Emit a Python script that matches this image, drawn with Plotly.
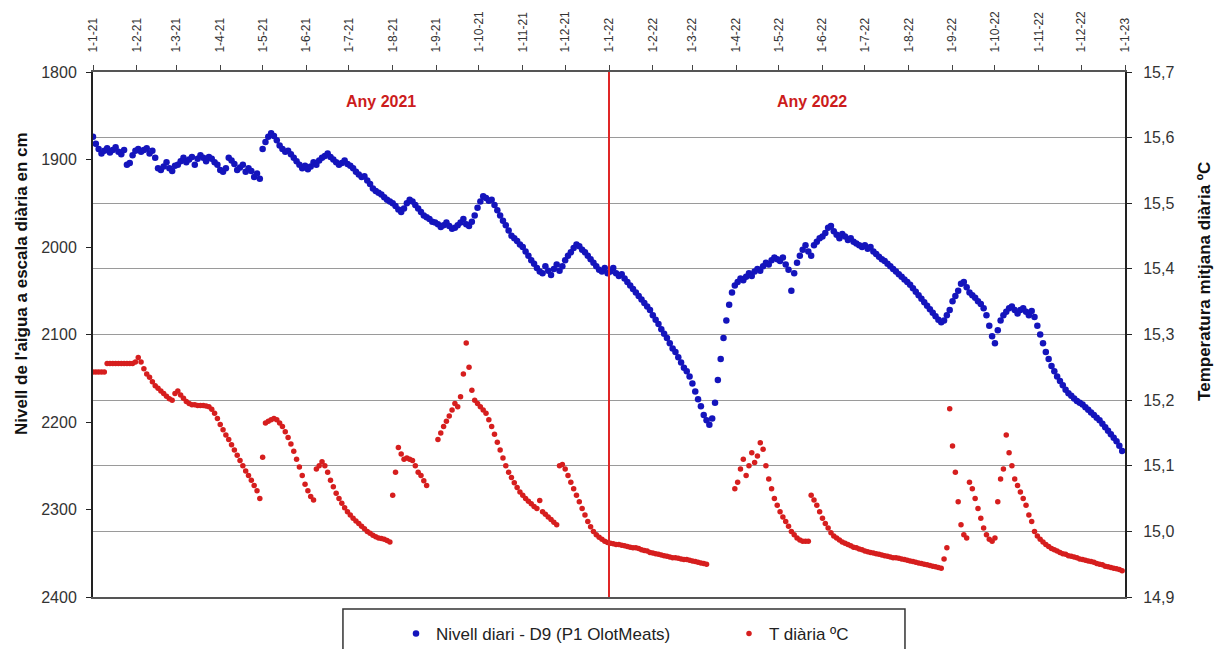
import pandas as pd
import plotly.graph_objects as go

# Readings every 2 days starting on 1 Jan 2021 (365 readings up to 30 Dec 2022)
START = "2021-01-01"
STEP_DAYS = 2

# Daily water level (cm, depth scale) - one line per month
nivell_2021 = [
    1874, 1882, 1888, 1893, 1890, 1887, 1892, 1889, 1886, 1891, 1894, 1889, 1906, 1904, 1895, 1890,
    1888, 1891, 1889, 1887, 1893, 1890, 1898, 1910, 1912, 1908, 1903, 1910, 1913, 1907,
    1906, 1902, 1898, 1903, 1900, 1897, 1906, 1899, 1895, 1898, 1902, 1897, 1899, 1903, 1906,
    1912, 1914, 1910, 1898, 1901, 1905, 1912, 1909, 1906, 1914, 1910, 1913, 1920, 1916, 1922,
    1888, 1880, 1874, 1870, 1873, 1878, 1884, 1888, 1891, 1890, 1894, 1898, 1902, 1906, 1910, 1907,
    1911, 1908, 1903, 1906, 1901, 1898, 1896, 1893, 1897, 1900, 1903, 1906, 1904, 1901, 1905,
    1907, 1910, 1914, 1917, 1920, 1919, 1924, 1928, 1933, 1936, 1938, 1940, 1943, 1946, 1948,
    1950, 1953, 1957, 1960, 1956, 1950, 1946, 1948, 1952, 1956, 1960, 1964, 1966, 1968, 1971, 1972,
    1974, 1977, 1975, 1972, 1976, 1979, 1978, 1975, 1972, 1968, 1974, 1976, 1971, 1964, 1955,
    1948, 1942, 1944, 1947, 1946, 1952, 1958, 1964, 1970, 1975, 1981, 1987, 1990, 1993, 1997,
    2000, 2005, 2010, 2015, 2019, 2024, 2028, 2030, 2022, 2027, 2032, 2025, 2020, 2027, 2022,
    2015, 2010, 2006, 2001, 1997, 1999, 2003, 2006, 2010, 2014, 2018, 2022, 2026, 2028, 2024, 2030,
]
nivell_2022 = [
    2028, 2024, 2030, 2033, 2031, 2036, 2040, 2044, 2048, 2052, 2056, 2060, 2064, 2068, 2072,
    2078, 2083, 2088, 2094, 2099, 2104, 2110, 2116, 2120, 2126, 2132, 2138, 2142, 2148,
    2156, 2165, 2174, 2182, 2192, 2198, 2203, 2196, 2178, 2152, 2128, 2104, 2084, 2066, 2052, 2044,
    2040, 2036, 2038, 2034, 2030, 2033, 2028, 2025, 2027, 2022, 2018, 2020, 2015, 2012, 2014,
    2016, 2012, 2020, 2026, 2050, 2030, 2018, 2010, 2003, 1998, 2005, 2010, 1998, 1994, 1990,
    1988, 1984, 1978, 1976, 1982, 1986, 1990, 1985, 1988, 1992, 1990, 1994, 1996, 1998, 2000,
    1998, 2002, 2000, 2005, 2008, 2011, 2014, 2016, 2019, 2022, 2025, 2028, 2031, 2034, 2037, 2040,
    2043, 2047, 2051, 2055, 2059, 2063, 2067, 2071, 2075, 2079, 2083, 2086, 2084, 2078, 2072,
    2062, 2056, 2050, 2042, 2040, 2046, 2052, 2055, 2058, 2062, 2065, 2070, 2078, 2090, 2102,
    2110, 2095, 2084, 2078, 2074, 2070, 2068, 2072, 2076, 2072, 2070, 2074, 2078, 2073, 2080, 2090,
    2100, 2110, 2120, 2128, 2136, 2142, 2148, 2153, 2158, 2163, 2167, 2170, 2173, 2176, 2178,
    2180, 2183, 2186, 2189, 2192, 2195, 2198, 2202, 2206, 2210, 2214, 2218, 2222, 2227, 2233,
]

# Daily mean temperature (ºC); None = no reading
temp_2021 = [
    15.243, 15.243, 15.243, 15.243, 15.243, 15.256, 15.256, 15.256, 15.256, 15.256, 15.256, 15.256, 15.256, 15.256, 15.256, 15.258,
    15.265, 15.258, 15.248, 15.24, 15.235, 15.228, 15.222, 15.218, 15.214, 15.21, 15.206, 15.202, 15.2, 15.21,
    15.214, 15.208, 15.203, 15.198, 15.195, 15.193, 15.193, 15.192, 15.192, 15.192, 15.191, 15.19, 15.186, 15.18, 15.172,
    15.163, 15.155, 15.147, 15.14, 15.132, 15.124, 15.116, 15.108, 15.1, 15.092, 15.085, 15.078, 15.07, 15.062, 15.05,
    15.113, 15.165, 15.168, 15.17, 15.172, 15.17, 15.165, 15.16, 15.152, 15.143, 15.133, 15.122, 15.11, 15.098, 15.085, 15.072,
    15.062, 15.053, 15.048, 15.095, 15.1, 15.106, 15.1, 15.09, 15.078, 15.068, 15.058, 15.05, 15.043, 15.036, 15.03,
    15.025, 15.02, 15.016, 15.012, 15.008, 15.004, 15.0, 14.997, 14.994, 14.992, 14.99, 14.989, 14.988, 14.986, 14.984,
    15.055, 15.09, 15.128, 15.118, 15.11, 15.112, 15.11, 15.108, 15.1, 15.09, 15.085, 15.077, 15.07, None, None, None,
    15.14, 15.15, 15.16, 15.168, 15.176, 15.185, 15.195, 15.19, 15.205, 15.24, 15.287, 15.25, 15.215, 15.2, 15.195,
    15.19, 15.185, 15.18, 15.17, 15.16, 15.148, 15.136, 15.124, 15.112, 15.1, 15.09, 15.082, 15.074, 15.067, 15.06,
    15.055, 15.05, 15.046, 15.042, 15.038, 15.035, 15.047, 15.03, 15.026, 15.022, 15.018, 15.014, 15.01, 15.1, 15.102,
    15.095, 15.085, 15.075, 15.065, 15.055, 15.045, 15.035, 15.025, 15.015, 15.007, 15.0, 14.995, 14.991, 14.988, 14.985, 14.983,
]
temp_2022 = [
    14.982, 14.981, 14.98, 14.98, 14.979, 14.978, 14.977, 14.976, 14.975, 14.975, 14.974, 14.972, 14.971, 14.97, 14.968,
    14.967, 14.966, 14.965, 14.964, 14.963, 14.962, 14.961, 14.96, 14.96, 14.959, 14.958, 14.957, 14.957, 14.956,
    14.955, 14.954, 14.953, 14.952, 14.951, 14.95, None, None, None, None, None, None, None, None, None, 15.065,
    15.075, 15.095, 15.11, 15.085, 15.1, 15.12, 15.105, 15.115, 15.135, 15.125, 15.1, 15.08, 15.065, 15.05, 15.04,
    15.03, 15.022, 15.015, 15.008, 15.0, 14.995, 14.99, 14.987, 14.985, 14.985, 14.985, 15.055, 15.048, 15.04, 15.03,
    15.02, 15.012, 15.005, 14.998, 14.993, 14.99, 14.987, 14.984, 14.982, 14.98, 14.978, 14.976, 14.975, 14.973, 14.972,
    14.97, 14.969, 14.968, 14.967, 14.966, 14.965, 14.964, 14.963, 14.962, 14.961, 14.96, 14.96, 14.959, 14.958, 14.957, 14.956,
    14.955, 14.954, 14.953, 14.952, 14.951, 14.95, 14.949, 14.948, 14.947, 14.946, 14.945, 14.944, 14.958, 14.975, 15.187,
    15.13, 15.09, 15.045, 15.01, 14.995, 14.99, 15.075, 15.065, 15.05, 15.035, 15.02, 15.005, 14.995, 14.988, 14.985,
    14.99, 15.045, 15.08, 15.095, 15.147, 15.12, 15.1, 15.08, 15.07, 15.06, 15.05, 15.04, 15.025, 15.015, 15.0, 14.993,
    14.988, 14.984, 14.98, 14.977, 14.974, 14.972, 14.97, 14.968, 14.966, 14.965, 14.963, 14.962, 14.961, 14.96, 14.958,
    14.957, 14.956, 14.955, 14.954, 14.953, 14.951, 14.95, 14.949, 14.947, 14.946, 14.945, 14.944, 14.943, 14.942, 14.94,
]

nivell = nivell_2021 + nivell_2022
temp = temp_2021 + temp_2022
dates = pd.date_range(START, periods=len(nivell), freq=f"{STEP_DAYS}D")

YEAR_SPLIT = "2022-01-01"
BLUE = "#1414bc"
RED = "#d61e1e"
FONT = "Liberation Sans, Arial, sans-serif"

fig = go.Figure()
fig.add_trace(go.Scatter(
    x=dates, y=nivell, mode="markers", name="Nivell diari - D9 (P1 OlotMeats)",
    marker=dict(color=BLUE, size=6.5, line=dict(width=0)), yaxis="y",
))
fig.add_trace(go.Scatter(
    x=dates, y=temp, mode="markers", name="T diària ºC",
    marker=dict(color=RED, size=5.5, line=dict(width=0)), yaxis="y2",
))

# red divider between the two years
fig.add_shape(type="line", xref="x", yref="paper", x0=YEAR_SPLIT, x1=YEAR_SPLIT,
              y0=0, y1=1, line=dict(color="#e02626", width=2))

# legend frame
fig.add_shape(type="rect", xref="paper", yref="paper", x0=0.2422, x1=0.7868,
              y0=-0.0229, y1=-0.14, line=dict(color="#333333", width=1.5),
              fillcolor="rgba(0,0,0,0)")

year_font = dict(family=FONT, size=16, color="#cc1c1c", weight="bold")
for label, xpos in (("Any 2021", 0.279), ("Any 2022", 0.697)):
    fig.add_annotation(text=label, xref="paper", yref="paper", x=xpos, y=0.943,
                       xanchor="center", yanchor="middle", showarrow=False, font=year_font)

title_font = dict(family=FONT, size=17, color="#111111", weight="bold")
fig.add_annotation(text="Nivell de l'aigua a escala diària en cm", xref="paper", yref="paper",
                   x=-0.0698, y=0.598, xanchor="center", yanchor="middle",
                   textangle=-90, showarrow=False, font=title_font)
fig.add_annotation(text="Temperatura mitjana diària ºC", xref="paper", yref="paper",
                   x=1.0775, y=0.602, xanchor="center", yanchor="middle",
                   textangle=-90, showarrow=False, font=title_font)

fig.update_layout(
    width=1216, height=649,
    margin=dict(l=93, r=91, t=72, b=52, autoexpand=False),
    paper_bgcolor="white", plot_bgcolor="white",
    font=dict(family=FONT, size=16, color="#333333"),
    separators=",.",
    showlegend=True,
    legend=dict(orientation="h", x=0.2936, y=-0.0705, xanchor="left", yanchor="middle",
                font=dict(family=FONT, size=17, color="#222222"),
                bgcolor="rgba(0,0,0,0)", entrywidth=288, itemsizing="trace"),
    xaxis=dict(
        type="date", range=["2021-01-01", "2023-01-01"], side="top",
        tickmode="linear", tick0="2021-01-01", dtick="M1", tickformat="%-d-%-m-%y",
        tickangle=-90, ticks="outside", ticklen=5, tickcolor="#444444",
        showline=True, linecolor="#555555", linewidth=2, mirror=True,
        showgrid=False, zeroline=False, ticklabelstandoff=10,
        tickfont=dict(family=FONT, size=12, color="#333333"),
    ),
    yaxis=dict(
        range=[2400, 1800], tickmode="linear", tick0=1800, dtick=100,
        ticks="outside", ticklen=5, tickcolor="#222222",
        showline=True, linecolor="#222222", linewidth=2,
        showgrid=False, zeroline=False, ticklabelstandoff=6,
        tickfont=dict(family=FONT, size=16, color="#333333"),
    ),
    yaxis2=dict(
        overlaying="y", side="right", range=[14.9, 15.7], tickmode="linear",
        tick0=14.9, dtick=0.1, tickformat=".1f",
        ticks="outside", ticklen=5, tickcolor="#222222",
        showline=True, linecolor="#222222", linewidth=2,
        showgrid=True, gridcolor="#9a9a9a", gridwidth=1, zeroline=False,
        ticklabelstandoff=8,
        tickfont=dict(family=FONT, size=16, color="#333333"),
    ),
)

fig.write_html("out.html")
